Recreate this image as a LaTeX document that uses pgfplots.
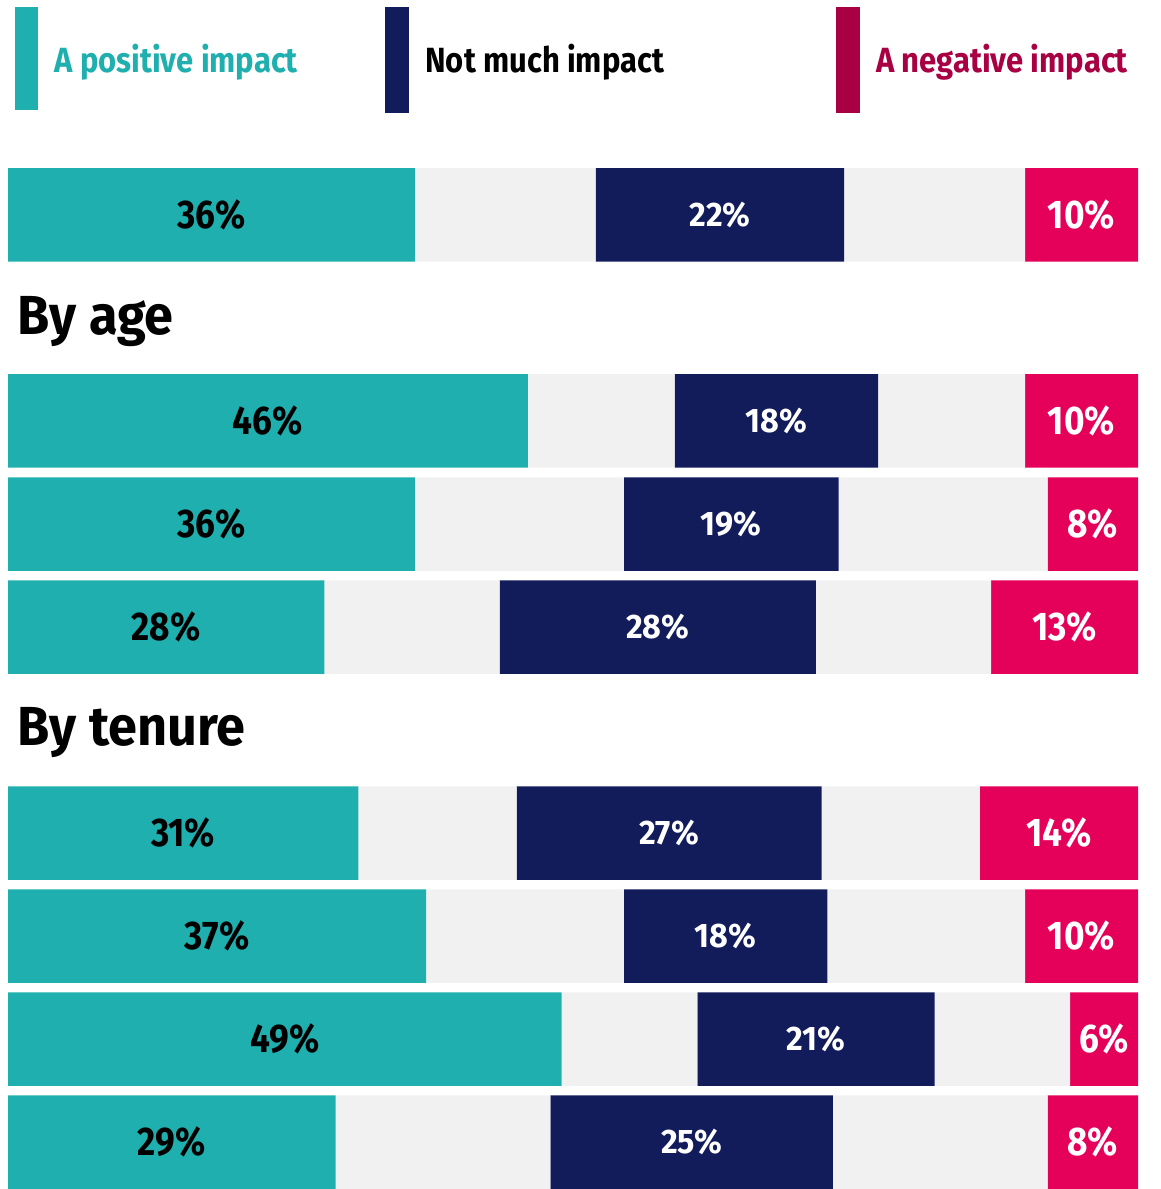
\documentclass[border=0pt]{standalone}
\usepackage{fontspec}
\setmainfont{Fira Sans}
\newfontfamily\labfont{Fira Sans}[FakeStretch=0.88]
\newfontfamily\navfont{Fira Sans}[FakeStretch=0.95]
\newfontfamily\legfont{Fira Sans}[FakeStretch=0.885]
\newfontfamily\headfont{Fira Sans}[FakeStretch=0.95]
\usepackage{pgfplots}
\pgfplotsset{compat=1.18}
\usepackage{pgfplotstable}
\definecolor{cteal}{HTML}{1EAFAE}
\definecolor{cnavy}{HTML}{121C5A}
\definecolor{cpink}{HTML}{E5005A}
\definecolor{ccrim}{HTML}{A80042}
\definecolor{cgray}{HTML}{F1F1F1}

% y = row position, p = positive, g = grey gap, n = not much, k = negative
\pgfplotstableread{
y p g n k
0 36 16 22 10
2 46 13 18 10
3 36 18.5 19 8
4 28 15.5 28 13
6 31 14 27 14
7 37 17.5 18 10
8 49 12 21 6
9 29 19 25 8
}\data

\begin{document}
\begin{tikzpicture}
\begin{axis}[
  scale only axis, width=580.5pt, height=594.5pt,
  xmin=-0.708, xmax=102.035, ymin=-2.087, ymax=9.456,
  y dir=reverse, hide axis, clip=false,
  xbar stacked, bar width=46.75pt,
  lab/.style n args={2}{point meta=explicit symbolic,
    nodes near coords={\pgfplotspointmeta\%},
    every node near coord/.append style={anchor=center,
      text=#1, font=#2}},
]
\addplot[fill=cteal, draw=none, lab={black}{\labfont\bfseries\fontsize{20}{20}\selectfont}] table[x=p,y=y,meta=p]{\data};
\addplot[fill=cgray, draw=none] table[x=g,y=y]{\data};
\addplot[fill=cnavy, draw=none, lab={white}{\navfont\bfseries\fontsize{17}{17}\selectfont}] table[x=n,y=y,meta=n]{\data};
\addplot[fill=cgray, draw=none] table[x=g,y=y]{\data};
\addplot[fill=cpink, draw=none, lab={white}{\labfont\bfseries\fontsize{20}{20}\selectfont}] table[x=k,y=y,meta=k]{\data};

% bounding box of the whole chart
\path (rel axis cs:0,0) rectangle (rel axis cs:1,1);

% legend
\fill[cteal] (axis cs:0.62,-2.02) rectangle (axis cs:2.65,-1.02);
\fill[cnavy] (axis cs:33.36,-2.02) rectangle (axis cs:35.49,-0.99);
\fill[ccrim] (axis cs:73.27,-2.02) rectangle (axis cs:75.4,-0.99);
\node[anchor=base west, inner sep=0pt, text=cteal, font=\legfont\bfseries\fontsize{17.5}{17.5}\selectfont] at (axis cs:4.07,-1.388) {A positive impact};
\node[anchor=base west, inner sep=0pt, text=black, font=\legfont\bfseries\fontsize{17.5}{17.5}\selectfont] at (axis cs:36.9,-1.388) {Not much impact};
\node[anchor=base west, inner sep=0pt, text=ccrim, font=\legfont\bfseries\fontsize{17.5}{17.5}\selectfont] at (axis cs:76.8,-1.388) {A negative impact};

% headings
\node[anchor=base west, inner sep=0pt, font=\headfont\bfseries\fontsize{27.5}{27.5}\selectfont] at (axis cs:0.8,1.165) {By age};
\node[anchor=base west, inner sep=0pt, font=\headfont\bfseries\fontsize{27.5}{27.5}\selectfont] at (axis cs:0.8,5.146) {By tenure};
\end{axis}
\end{tikzpicture}
\end{document}
